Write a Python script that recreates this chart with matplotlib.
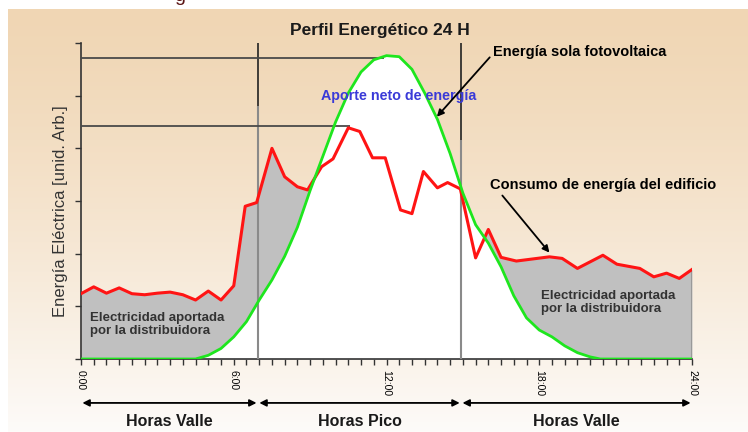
import numpy as np
import matplotlib.pyplot as plt

plt.rcParams['font.family'] = ['Liberation Sans', 'DejaVu Sans']

# building consumption (red)
red_hours = [0, 0.5, 1, 1.5, 2, 2.5, 3, 3.5, 4, 4.5, 5, 5.5, 6, 6.45, 6.9, 7.5, 8, 8.5,
             8.9, 9.45, 9.9, 10.5, 10.95, 11.45, 11.95, 12.55, 13, 13.45, 14, 14.4,
             14.9, 15.5, 16, 16.5, 17.1, 18.4, 18.9, 19.5, 20.5, 21.05, 21.95, 22.5,
             23, 23.5, 24]
red_vals = [1.24, 1.37, 1.25, 1.35, 1.24, 1.22, 1.25, 1.27, 1.22, 1.12, 1.29, 1.12, 1.39,
            2.9, 2.97, 4.0, 3.46, 3.27, 3.21, 3.65, 3.8, 4.39, 4.32, 3.82, 3.82, 2.83,
            2.76, 3.56, 3.25, 3.35, 3.23, 1.92, 2.46, 1.93, 1.86, 1.94, 1.91, 1.72, 1.97,
            1.8, 1.72, 1.56, 1.63, 1.53, 1.7]

# photovoltaic production (green)
green_hours = [0, 4.5, 5, 5.5, 6, 6.5, 7, 7.5, 8, 8.5, 9, 9.5, 10, 10.5, 11, 11.5, 12,
               12.5, 13, 13.5, 14, 14.5, 15, 15.5, 16, 16.5, 17, 17.5, 18, 18.5, 19,
               19.5, 20, 20.4, 24]
green_vals = [0, 0, 0.07, 0.2, 0.42, 0.71, 1.12, 1.5, 1.95, 2.5, 3.2, 3.85, 4.5, 5.05,
              5.45, 5.68, 5.76, 5.74, 5.5, 5.05, 4.55, 3.9, 3.15, 2.55, 2.2, 1.75, 1.2,
              0.78, 0.55, 0.42, 0.25, 0.12, 0.04, 0, 0]

# reference lines at the two peaks
peak_levels = [5.72, 4.43]
peak_hours = [11.9, 10.55]

# tariff periods
period_edges = [0, 6.95, 14.93, 24]
period_names = ['Horas Valle', 'Horas Pico', 'Horas Valle']
vline_dark_to = [4.8, 4.16]

hour_ticks = np.arange(0, 24.5, 0.5)
hour_labels = ['%d:00' % h if h % 6 == 0 else '' for h in hour_ticks]

fig = plt.figure(figsize=(7.48, 4.32), dpi=100)

# beige gradient panel behind everything
bg = fig.add_axes([8 / 748, 0, 740 / 748, 1 - 9 / 432])
top = np.array([240, 214, 180]) / 255
bottom = np.array([253, 251, 249]) / 255
t = np.linspace(0, 1, 256)[:, None, None] ** 1.3
bg.imshow(top + (bottom - top) * t, aspect='auto', extent=[0, 1, 0, 1])
bg.set_axis_off()

ax = fig.add_axes([81 / 748, 1 - 359 / 432, 611 / 748, 316 / 432])
ax.patch.set_alpha(0)

ax.fill_between(red_hours, 0, red_vals, color='#c0c0c0', lw=0, zorder=1)
ax.fill_between(green_hours, 0, green_vals, color='white', lw=0, zorder=2)
ax.vlines(red_hours[-1], 0, red_vals[-1], color='#999999', lw=1.5, zorder=2)

# period separators
for x, yd in zip(period_edges[1:3], vline_dark_to):
    ax.vlines(x, yd, 6, color='#222222', lw=1.2, zorder=3)
    ax.vlines(x, 0, yd, color='#8a8a8a', lw=1.5, zorder=3)

for lvl, hx in zip(peak_levels, peak_hours):
    ax.hlines(lvl, 0, hx, color='#4a4a4a', lw=1.3, zorder=3)

ax.plot(red_hours, red_vals, color='#ff1414', lw=2.2, zorder=5)
ax.plot(green_hours, green_vals, color='#1ee61e', lw=2, zorder=6)

ax.set_xlim(0, 24)
ax.set_ylim(0, 6)
ax.set_xticks(hour_ticks)
ax.set_xticklabels(hour_labels, rotation=270, fontsize=7.5)
ax.set_yticks(range(7))
ax.set_yticklabels([])
ax.tick_params(axis='both', direction='out', length=4, width=1, color='#333333', pad=4)
for s in ['top', 'right']:
    ax.spines[s].set_visible(False)
for s in ['left', 'bottom']:
    ax.spines[s].set_color('#333333')
    ax.spines[s].set_linewidth(1.2)

ax.text(-0.034, 0.468, 'Energía Eléctrica [unid. Arb.]', transform=ax.transAxes,
        rotation=90, ha='center', va='center', fontsize=12, color='#333333')

fig.text(380 / 748, 1 - 30 / 432, 'Perfil Energético 24 H', ha='center', va='center',
         fontsize=12.5, fontweight='bold', color='#1a1a1a')
fig.text(180 / 748, 1 - 1 / 432, 'g', ha='center', va='baseline', fontsize=14,
         color='#5a1414')

ax.text(12.49, 5.0, 'Aporte neto de energía', ha='center', va='center', fontsize=10.3,
        fontweight='bold', color='#3a3ad8', zorder=7)

ax.annotate('Energía sola fotovoltaica', xy=(13.98, 4.6), xytext=(16.2, 5.82),
            ha='left', va='center', fontsize=10.5, fontweight='bold', zorder=7,
            arrowprops=dict(arrowstyle='-|>', color='black', lw=1.3, mutation_scale=10,
                            shrinkA=1, shrinkB=0, relpos=(0, 0.45)))
ax.annotate('Consumo de energía del edificio', xy=(18.4, 2.02), xytext=(16.07, 3.31),
            ha='left', va='center', fontsize=10.5, fontweight='bold', zorder=7,
            arrowprops=dict(arrowstyle='-|>', color='black', lw=1.3, mutation_scale=10,
                            shrinkA=1, shrinkB=0, relpos=(0.04, 0)))

for hx, vy in [(0.35, 0.66), (18.07, 1.07)]:
    ax.text(hx, vy, 'Electricidad aportada\npor la distribuidora', ha='left',
            va='center', fontsize=9.5, fontweight='bold', color='#333333',
            linespacing=1.1, zorder=7)

# tariff period arrows under the axis
trans = ax.get_xaxis_transform()
for a, b, name in zip(period_edges[:-1], period_edges[1:], period_names):
    ax.annotate('', xy=(b, -0.139), xytext=(a, -0.139), xycoords=trans,
                textcoords=trans, annotation_clip=False,
                arrowprops=dict(arrowstyle='<|-|>', color='black', lw=1.3,
                                mutation_scale=10, shrinkA=1, shrinkB=1))
    ax.text((a + b) / 2, -0.199, name, transform=trans, ha='center', va='center',
            fontsize=11.5, fontweight='bold', color='#1a1a1a')

fig.savefig('out.png', dpi=100)
